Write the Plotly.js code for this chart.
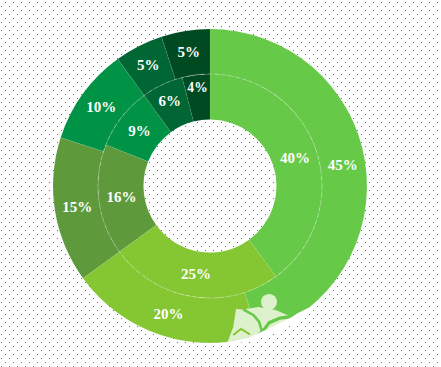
<!DOCTYPE html>
<html>
<head>
<meta charset="utf-8">
<script src="https://cdn.plot.ly/plotly-3.0.1.min.js"></script>
<style>
html,body{margin:0;padding:0;width:441px;height:367px;overflow:hidden;background-color:#fff;}
body,#tex{background-image:url("data:image/svg+xml,%3Csvg xmlns='http://www.w3.org/2000/svg' width='8' height='8'%3E%3Crect x='5' y='2' width='1' height='1' fill='%234472b4'/%3E%3Crect x='1' y='6' width='1' height='1' fill='%234472b4'/%3E%3C/svg%3E");}
#chart{position:absolute;left:0;top:0;width:441px;height:367px;}
#tex{position:absolute;left:0;top:0;width:441px;height:367px;opacity:.08;pointer-events:none;}
</style>
</head>
<body>
<div id="chart"></div>
<div id="tex"></div>
<script>
var outerValues = [45, 20, 15, 10, 5, 5];
var innerValues = [40, 25, 16, 9, 6, 4];
var sliceColors = ['#66c947', '#85c633', '#5e9a3b', '#009245', '#006633', '#004a22'];

var W = 441, H = 367, CX = 210, CY = 186, R_OUT = 157, R_MID = 112, R_IN = 66.5;
function domainFor(r) {
  return { x: [(CX - r) / W, (CX + r) / W], y: [1 - (CY + r) / H, 1 - (CY - r) / H] };
}
function ring(values, radius, hole) {
  return {
    type: 'pie', values: values, sort: false, direction: 'clockwise', rotation: 0,
    domain: domainFor(radius), hole: hole,
    marker: { colors: sliceColors, line: { color: 'rgba(255,255,255,0.12)', width: 0.6 } },
    texttemplate: '%{value}%', textposition: 'inside', insidetextorientation: 'horizontal',
    insidetextfont: { family: '"Liberation Serif", serif', size: 15, weight: 'bold', color: '#ffffff' },
    hoverinfo: 'none', showlegend: false
  };
}
function P(pts, close) {
  return pts.map(function (p, i) {
    return (i ? 'L' : 'M') + (p[0] / W).toFixed(5) + ',' + (1 - p[1] / H).toFixed(5);
  }).join(' ') + (close ? ' Z' : '');
}
function Z(pts) { return pts.map(function (p) { return [225 + p[0] / 3, 285 + p[1] / 3]; }); }
var LIGHT = '#ddf1cd', STROKE = '#66c947';
function fillShape(pts) {
  return { type: 'path', xref: 'paper', yref: 'paper', path: P(Z(pts), true), fillcolor: LIGHT, line: { width: 0 } };
}
function strokeShape(pts, color, w) {
  return { type: 'path', xref: 'paper', yref: 'paper', path: P(Z(pts), false), line: { color: color, width: w } };
}
var shapes = [
  { type: 'circle', xref: 'paper', yref: 'paper',
    x0: (CX - R_MID) / W, x1: (CX + R_MID) / W, y0: 1 - (CY + R_MID) / H, y1: 1 - (CY - R_MID) / H,
    line: { color: 'rgba(255,255,255,0.24)', width: 1, dash: '4px,3px' } },
  fillShape([[33,72],[60,74],[85,92],[102,112],[110,135],[90,152],[75,156],[8,170],[25,125]]),
  fillShape([[62,72],[100,66],[150,74],[192,92],[160,97],[130,110],[110,135],[100,108]]),
  fillShape([[112,148],[135,118],[165,104],[218,98],[200,118],[120,150]]),
  strokeShape([[55,74],[85,90],[102,110],[112,142]], STROKE, 2.5),
  strokeShape([[112,142],[132,112],[165,98],[196,94]], STROKE, 2.5),
  strokeShape([[25,150],[48,132],[75,148]], '#85c633', 2),
  { type: 'circle', xref: 'paper', yref: 'paper',
    x0: 261 / W, x1: 277 / W, y0: 1 - 310 / H, y1: 1 - 294 / H,
    fillcolor: LIGHT, line: { width: 0 } },
  // white sliver that cuts the ring's lower edge
  { type: 'path', xref: 'paper', yref: 'paper',
    path: P([[222,343],[250,337],[270,328],[292,317],[297,313.5],[310,307],[313,308],[300,319],[285,329],[270,335],[250,341],[222,346]], true),
    fillcolor: '#ffffff', line: { width: 0 } }
];
Plotly.newPlot('chart', [ring(outerValues, R_OUT, R_MID / R_OUT), ring(innerValues, R_MID, R_IN / R_MID)], {
  width: W, height: H, margin: { l: 0, r: 0, t: 0, b: 0, pad: 0 },
  paper_bgcolor: 'rgba(0,0,0,0)', plot_bgcolor: 'rgba(0,0,0,0)',
  shapes: shapes, showlegend: false
}, { displayModeBar: false, staticPlot: true });
</script>
</body>
</html>
